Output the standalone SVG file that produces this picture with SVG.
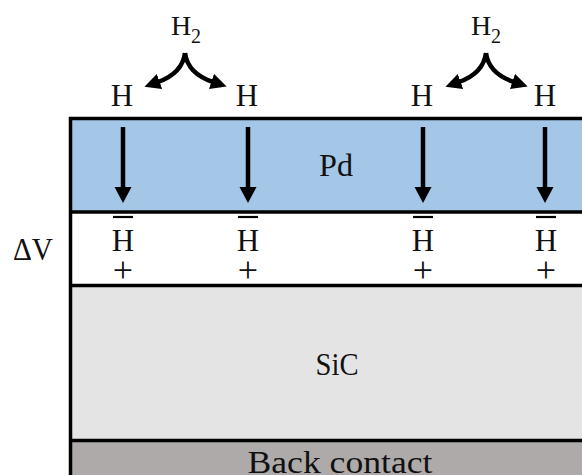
<svg xmlns="http://www.w3.org/2000/svg" width="582" height="475" viewBox="0 0 582 475">
<style>
text{font-family:"Liberation Serif","DejaVu Serif",serif;fill:#111;text-anchor:middle}
.t{font-size:31px}
.h2{font-size:28px}
.s{font-size:20px}
.p{font-size:36px}
.line{stroke:#000;stroke-width:3.5;fill:none}
.shaft{stroke:#000;stroke-width:4.5;fill:none}
.curve{stroke:#000;stroke-width:4.5;fill:none}
.bar{stroke:#000;stroke-width:2.2}
</style>
<defs>
<marker id="ah" viewBox="0 0 10 10" refX="1" refY="5" markerWidth="16" markerHeight="16" orient="auto" markerUnits="userSpaceOnUse">
<path d="M0,0 L10,5 L0,10 z" fill="#000"/>
</marker>
</defs>
<g id="layers">
<rect id="pd" x="70" y="117" width="520" height="94" fill="#a4c6e7"/>
<rect id="interface" x="70" y="212" width="520" height="73" fill="#fff"/>
<rect id="sic" x="70" y="285" width="520" height="155" fill="#e4e4e4"/>
<rect id="back" x="70" y="440" width="520" height="40" fill="#aeaaaa"/>
<path class="line" d="M70.5,480 V118.5 H590 M70,212 H590 M70,285.5 H590 M70,440.5 H590"/>
</g>
<g id="labels">
<text class="t" x="336" y="176" textLength="34" lengthAdjust="spacingAndGlyphs">Pd</text>
<text class="t" x="337" y="375" textLength="43" lengthAdjust="spacingAndGlyphs">SiC</text>
<text class="t" x="340" y="473" textLength="185" lengthAdjust="spacingAndGlyphs">Back contact</text>
<text class="t" x="33" y="260" textLength="40" lengthAdjust="spacingAndGlyphs">ΔV</text>
</g>
<g id="h2-left">
<text class="h2" x="186" y="35">H<tspan class="s" dy="8">2</tspan></text>
</g>
<g id="h2-right">
<text class="h2" x="486" y="35">H<tspan class="s" dy="8">2</tspan></text>
</g>
<g id="h-atoms">
<text class="t" x="122" y="106">H</text>
<text class="t" x="247" y="106">H</text>
<text class="t" x="422" y="106">H</text>
<text class="t" x="545" y="106">H</text>
</g>
<g id="h-interface">
<line class="bar" x1="113" y1="217" x2="133" y2="217"/>
<text class="t" x="123" y="251">H</text>
<text class="p" x="123" y="282">+</text>
<line class="bar" x1="238" y1="217" x2="258" y2="217"/>
<text class="t" x="248" y="251">H</text>
<text class="p" x="248" y="282">+</text>
<line class="bar" x1="413" y1="217" x2="433" y2="217"/>
<text class="t" x="423" y="251">H</text>
<text class="p" x="423" y="282">+</text>
<line class="bar" x1="536" y1="217" x2="556" y2="217"/>
<text class="t" x="546" y="251">H</text>
<text class="p" x="546" y="282">+</text>
</g>
<g id="connectors">
<path class="shaft" d="M123,127 V190"/>
<path d="M114.5,187 H131.5 L123,203 Z"/>
<path class="shaft" d="M248,127 V190"/>
<path d="M239.5,187 H256.5 L248,203 Z"/>
<path class="shaft" d="M423,127 V190"/>
<path d="M414.5,187 H431.5 L423,203 Z"/>
<path class="shaft" d="M545,127 V190"/>
<path d="M536.5,187 H553.5 L545,203 Z"/>
<path class="curve" d="M185,53 C183,68 172,77 158,82" marker-end="url(#ah)"/>
<path class="curve" d="M185,53 C187,68 198,77 213,82" marker-end="url(#ah)"/>
<path class="curve" d="M486,53 C484,68 473,77 459,82" marker-end="url(#ah)"/>
<path class="curve" d="M486,53 C488,68 499,77 514,82" marker-end="url(#ah)"/>
</g>
</svg>
